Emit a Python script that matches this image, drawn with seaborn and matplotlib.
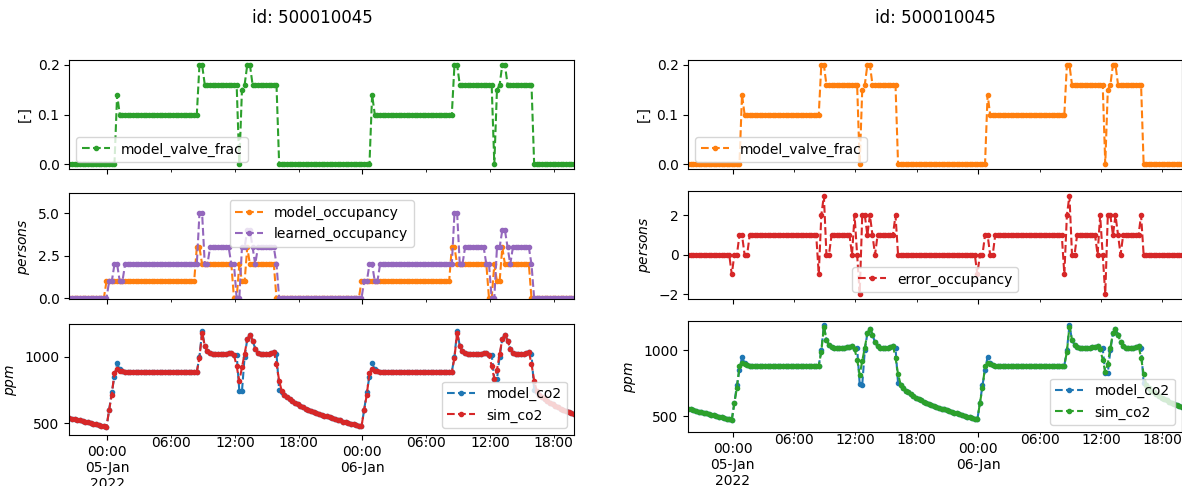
import numpy as np
import pandas as pd
import matplotlib
matplotlib.use("Agg")
import matplotlib.pyplot as plt
import matplotlib.dates as mdates
from matplotlib.ticker import FuncFormatter, FixedLocator
import seaborn as sns

# ---------------------------------------------------------------------------
# Data: 15-minute samples starting 2022-01-04 19:40
# ---------------------------------------------------------------------------
START = "2022-01-04 19:40"
FREQ = "15min"
LEFT_SKIP = 3          # the left-hand figure starts at 20:25
ROOM_ID = "500010045"

# step series, run-length encoded as (value, consecutive samples)
valve_frac_runs = [
    (0.0, 21), (0.14, 1), (0.1, 30), (0.2, 2), (0.16, 13), (0.0, 1), (0.15, 1),
    (0.16, 1), (0.2, 2), (0.16, 10), (0.0, 35), (0.14, 1), (0.1, 30), (0.2, 2),
    (0.16, 13), (0.0, 1), (0.15, 1), (0.16, 1), (0.2, 2), (0.16, 10), (0.0, 16),
]
model_occupancy_runs = [
    (0, 17), (1, 34), (3, 2), (2, 12), (0, 2), (2, 1), (1, 2), (3, 1), (2, 10),
    (0, 32), (1, 34), (3, 2), (2, 12), (0, 2), (2, 1), (1, 2), (3, 1), (2, 10),
    (0, 17),
]
learned_occupancy_runs = [
    (0, 18), (1, 2), (2, 2), (1, 2), (2, 28), (5, 2), (2, 2), (3, 8), (2, 2),
    (0, 2), (3, 2), (4, 2), (3, 1), (2, 1), (3, 7), (2, 1), (0, 32), (1, 2),
    (2, 2), (1, 2), (2, 28), (5, 2), (2, 2), (3, 8), (2, 2), (0, 2), (3, 2),
    (4, 2), (3, 1), (2, 1), (3, 7), (2, 1), (0, 16),
]
error_occupancy_runs = [
    (0, 17), (-1, 1), (0, 2), (1, 2), (0, 2), (1, 27), (-1, 1), (2, 1), (3, 1),
    (0, 2), (1, 8), (0, 1), (2, 1), (0, 1), (-2, 1), (2, 2), (1, 1), (2, 1),
    (1, 1), (0, 1), (1, 7), (2, 1), (0, 31), (-1, 1), (0, 2), (1, 2), (0, 2),
    (1, 27), (-1, 1), (2, 1), (3, 1), (0, 2), (1, 8), (0, 1), (2, 1), (0, 1),
    (-2, 1), (2, 2), (1, 1), (2, 1), (1, 1), (0, 1), (1, 7), (2, 1), (0, 16),
]

# CO2 concentration [ppm]
sim_co2 = (
    [557, 551, 545, 540, 535, 530, 525, 521, 516, 511, 506, 501, 496, 491, 487,
     482, 477, 472,
     600, 715, 880, 905, 895, 890] + [885] * 28 +
    [990, 1180, 1080, 1040, 1025] + [1018] * 5 + [1022, 1028, 1030, 1010,
     930, 815, 920, 1020, 1130, 1165, 1120, 1060, 1030] + [1018] * 4 +
    [1028, 1035, 945, 820, 740,
     712, 695, 680, 666, 653, 641, 630, 620, 610, 601, 593, 585, 577, 570, 563,
     557, 551, 545, 539, 533, 527, 521, 513, 507, 502, 497, 492, 487, 482, 476,
     600, 715, 880, 905, 895, 890] + [885] * 28 +
    [990, 1180, 1080, 1040, 1025] + [1018] * 5 + [1022, 1028, 1030, 1010,
     930, 835, 900, 1020, 1130, 1165, 1120, 1060, 1030] + [1018] * 4 +
    [1028, 1035, 945, 820, 740,
     712, 695, 680, 666, 653, 641, 630, 620, 610, 601, 593, 585, 577, 570]
)
model_co2 = (
    [557, 551, 545, 540, 535, 530, 525, 521, 516, 511, 506, 501, 496, 491, 487,
     482, 477, 472,
     600, 735, 850, 950, 905, 890] + [885] * 28 +
    [1000, 1190, 1080, 1040, 1025] + [1018] * 5 + [1022, 1028, 1030, 1010,
     1015, 745, 740, 1000, 1130, 1165, 1120, 1060, 1030] + [1018] * 4 +
    [1028, 1035, 1020, 750, 735,
     712, 695, 680, 666, 653, 641, 630, 620, 610, 601, 593, 585, 577, 570, 563,
     557, 551, 545, 539, 533, 527, 521, 513, 507, 502, 497, 492, 487, 482, 476,
     600, 735, 850, 950, 905, 890] + [885] * 28 +
    [1000, 1190, 1080, 1040, 1025] + [1018] * 5 + [1022, 1028, 1030, 1010,
     1015, 830, 830, 1000, 1130, 1165, 1120, 1060, 1030] + [1018] * 4 +
    [1028, 1035, 1020, 750, 735,
     712, 695, 680, 666, 653, 641, 630, 620, 610, 601, 593, 585, 577, 570]
)

# y tick values per panel
valve_ticks = [0.0, 0.1, 0.2]
occupancy_ticks = [0.0, 2.5, 5.0]
error_ticks = [-2, 0, 2]
co2_ticks = [500, 1000]


def expand(runs):
    values, counts = zip(*runs)
    return np.repeat(np.asarray(values, dtype=float), counts)


n = len(sim_co2)
df = pd.DataFrame({
    "time": pd.date_range(START, periods=n, freq=FREQ),
    "model_valve_frac": expand(valve_frac_runs),
    "model_occupancy": expand(model_occupancy_runs),
    "learned_occupancy": expand(learned_occupancy_runs),
    "error_occupancy": expand(error_occupancy_runs),
    "model_co2": np.asarray(model_co2, dtype=float),
    "sim_co2": np.asarray(sim_co2, dtype=float),
})
df_left = df.iloc[LEFT_SKIP:].reset_index(drop=True)
df_right = df

# ---------------------------------------------------------------------------
# Style
# ---------------------------------------------------------------------------
sns.set_style("ticks")
plt.rcParams.update({
    "font.family": ["DejaVu Sans"],
    "axes.edgecolor": "black",
    "axes.linewidth": 0.8,
    "axes.labelcolor": "black",
    "text.color": "black",
    "xtick.color": "black",
    "ytick.color": "black",
    "xtick.major.size": 3.5,
    "ytick.major.size": 3.5,
    "xtick.major.width": 0.8,
    "ytick.major.width": 0.8,
    "xtick.minor.size": 2.0,
    "xtick.minor.width": 0.6,
    "xtick.major.pad": 3.5,
    "xtick.minor.pad": -1.5,
    "ytick.major.pad": 3.5,
})

C = sns.color_palette("tab10")
BLUE, ORANGE, GREEN, RED, PURPLE = C[0], C[1], C[2], C[3], C[4]

W, H = 1182, 486
DPI = 100
fig = plt.figure(figsize=(W / DPI, H / DPI), dpi=DPI)


def box(x0, x1, y0, y1):
    return [x0 / W, 1 - y1 / H, (x1 - x0) / W, (y1 - y0) / H]


def draw(ax, data, col, color):
    sns.lineplot(data=data, x="time", y=col, ax=ax, color=color, label=col,
                 marker=".", linestyle="--", linewidth=1.5, markersize=6,
                 markeredgecolor=color, markeredgewidth=1.0)


def time_axis(ax, data):
    first_midnight = data["time"].dt.normalize().iloc[0] + pd.Timedelta(days=1)

    def day_label(x, pos):
        d = pd.Timestamp(mdates.num2date(x).replace(tzinfo=None))
        s = d.strftime("%H:%M\n%d-%b")
        if d == first_midnight:
            s += "\n" + d.strftime("%Y")
        return s

    ax.xaxis.set_major_locator(mdates.HourLocator(byhour=[0]))
    ax.xaxis.set_major_formatter(FuncFormatter(day_label))
    ax.xaxis.set_minor_locator(mdates.HourLocator(byhour=[6, 12, 18]))
    ax.xaxis.set_minor_formatter(mdates.DateFormatter("%H:%M"))
    ax.set_xlim(data["time"].iloc[0], data["time"].iloc[-1])


def column(data, xl, xr, rows, top_color, mid_series, mid_legend_loc,
           mid_ticks, mid_ylim, bot_series, bot_ylim):
    axes = [fig.add_axes(box(xl, xr, *r)) for r in rows]
    a_top, a_mid, a_bot = axes
    a_top.sharex(a_bot)
    a_mid.sharex(a_bot)

    draw(a_top, data, "model_valve_frac", top_color)
    a_top.set_ylabel("[-]")
    a_top.yaxis.set_major_locator(FixedLocator(valve_ticks))
    a_top.legend(loc="lower left")

    for col, color in mid_series:
        draw(a_mid, data, col, color)
    a_mid.set_ylabel("$persons$")
    a_mid.yaxis.set_major_locator(FixedLocator(mid_ticks))
    if mid_ylim is not None:
        a_mid.set_ylim(*mid_ylim)
    a_mid.legend(loc=mid_legend_loc)

    for col, color in bot_series:
        draw(a_bot, data, col, color)
    a_bot.set_ylabel("$ppm$")
    a_bot.yaxis.set_major_locator(FixedLocator(co2_ticks))
    a_bot.set_ylim(*bot_ylim)
    a_bot.legend(loc="lower right")

    time_axis(a_bot, data)
    for ax in axes:
        ax.set_xlabel("")
    for ax in (a_top, a_mid):
        ax.tick_params(which="both", labelbottom=False)
    return axes


left_axes = column(df_left, 69.3, 574,
                   [(60, 169), (193.3, 299.3), (324.3, 435)],
                   GREEN,
                   [("model_occupancy", ORANGE), ("learned_occupancy", PURPLE)],
                   "upper center", occupancy_ticks, (-0.06, 6.18),
                   [("model_co2", BLUE), ("sim_co2", RED)], (412, 1242))

right_axes = column(df_right, 688.3, 1182,
                    [(60, 169), (190.7, 299), (321, 432)],
                    ORANGE,
                    [("error_occupancy", RED)],
                    "lower center", error_ticks, None,
                    [("model_co2", BLUE), ("sim_co2", GREEN)], (380, 1223))

fig.text(312 / W, 1 - 18 / H, f"id: {ROOM_ID}", ha="center", va="center",
         fontsize=12)
fig.text(935 / W, 1 - 18 / H, f"id: {ROOM_ID}", ha="center", va="center",
         fontsize=12)

fig.savefig("out.png", dpi=DPI)
